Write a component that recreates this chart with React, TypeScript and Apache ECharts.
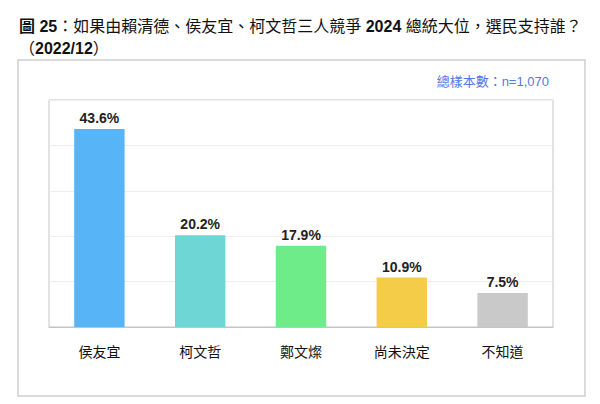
import React, { useEffect, useRef } from "react";
import * as echarts from "echarts";

const categories = ["侯友宜", "柯文哲", "鄭文燦", "尚未決定", "不知道"];
const values = [43.6, 20.2, 17.9, 10.9, 7.5];
const barColors = ["#56B4F7", "#6FD6D6", "#6FEC8A", "#F5CC48", "#C9C9C9"];
const titleLine1 = "{b|圖 25}{n|：如果由賴清德、侯友宜、柯文哲三人競爭 }{b|2024}{n| 總統大位，選民支持誰？}";
const titleLine2 = "{n|（}{b|2022/12}{n|）}";
const sampleNote = "總樣本數：n=1,070";

const FONT = "'Liberation Sans', 'Noto Sans CJK TC', sans-serif";

export default function App() {
  const ref = useRef<HTMLDivElement>(null);
  useEffect(() => {
    if (!ref.current) return;
    const chart = echarts.init(ref.current, undefined, { renderer: "svg" });
    const rich = {
      b: { fontFamily: FONT, fontSize: 16, fontWeight: "bold", fill: "#111" },
      n: { fontFamily: FONT, fontSize: 16, fontWeight: "normal", fill: "#111" },
    };
    chart.setOption({
      animation: false,
      backgroundColor: "#fff",
      textStyle: { fontFamily: FONT },
      graphic: [
        {
          type: "rect",
          shape: { x: 18, y: 60, width: 567, height: 336 },
          style: { fill: "none", stroke: "#cfcfcf", lineWidth: 1.5 },
          silent: true,
        },
        {
          type: "text",
          x: 19,
          y: 26,
          style: { text: titleLine1, rich, verticalAlign: "middle", align: "left" },
        },
        {
          type: "text",
          x: 19,
          y: 48,
          style: { text: titleLine2, rich, verticalAlign: "middle", align: "left" },
        },
        {
          type: "text",
          x: 549,
          y: 81,
          style: {
            text: sampleNote,
            fill: "#5477E6",
            fontSize: 13,
            fontFamily: FONT,
            align: "right",
            verticalAlign: "middle",
          },
        },
      ],
      grid: {
        left: 49,
        top: 100,
        right: 47,
        bottom: 77,
        show: true,
        borderColor: "#c4c4c4",
        borderWidth: 1,
        backgroundColor: "transparent",
      },
      xAxis: {
        type: "category",
        data: categories,
        axisLine: { lineStyle: { color: "#c4c4c4", width: 1 } },
        axisTick: { inside: true, length: 4, lineStyle: { color: "#c4c4c4" } },
        axisLabel: { fontSize: 14, color: "#111", margin: 18, fontFamily: FONT },
      },
      yAxis: {
        type: "value",
        min: 0,
        max: 50,
        interval: 10,
        axisLabel: { show: false },
        axisLine: { show: false },
        axisTick: { show: false },
        splitLine: { lineStyle: { color: "#eeeeee", width: 1 } },
      },
      series: [
        {
          type: "bar",
          barWidth: "50%",
          data: values.map((v, i) => ({ value: v, itemStyle: { color: barColors[i] } })),
          label: {
            show: true,
            position: "top",
            distance: 4,
            formatter: (p: any) => p.value.toFixed(1) + "%",
            fontSize: 14,
            fontWeight: "bold",
            color: "#222",
            fontFamily: FONT,
          },
        },
      ],
    });
    return () => chart.dispose();
  }, []);
  return (
    <div
      ref={ref}
      style={{ position: "absolute", left: 0, top: 0, width: 600, height: 404 }}
    />
  );
}
